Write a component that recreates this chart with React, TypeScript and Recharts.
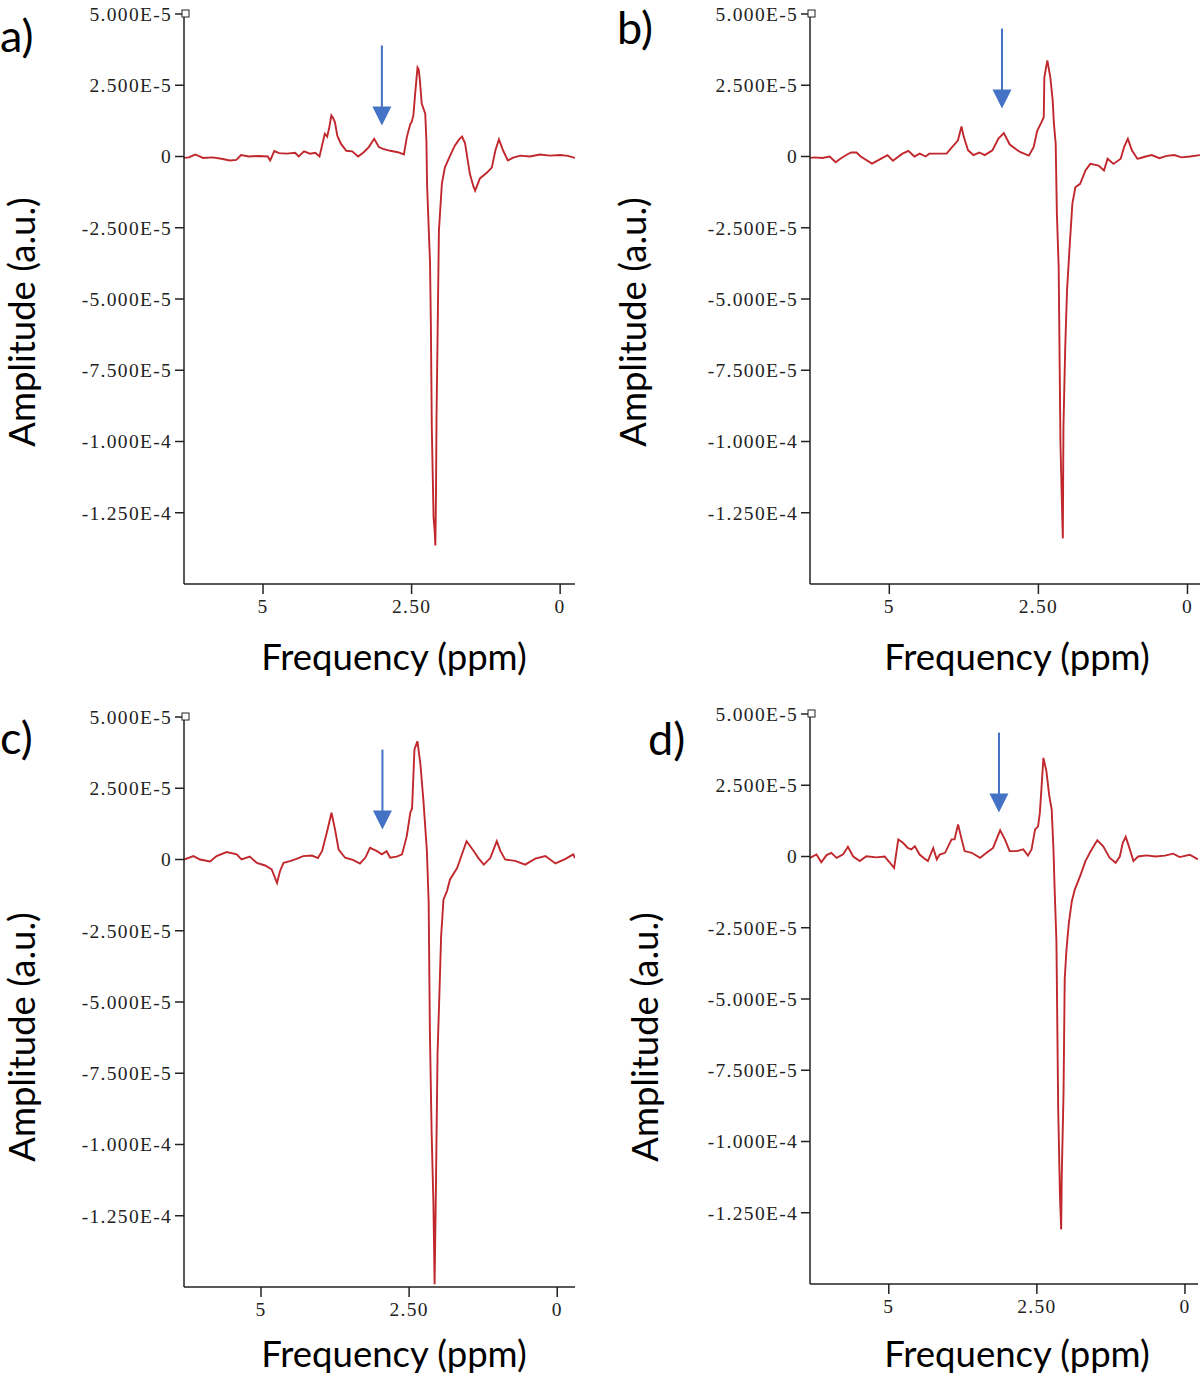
import React from 'react';
import { LineChart, Line, XAxis, YAxis, ReferenceDot, Label } from 'recharts';

// amplitudes below are in units of 1e-6 (a.u.)
const AMP_UNIT = 1e-6;

const PANEL_LETTERS = ['a)', 'b)', 'c)', 'd)'];
const X_LABEL = 'Frequency (ppm)';
const Y_LABEL = 'Amplitude (a.u.)';

const X_TICKS = [5, 2.5, 0];
const X_TICK_LABELS = ['5', '2.50', '0'];
const Y_TICKS = [5e-5, 2.5e-5, 0, -2.5e-5, -5e-5, -7.5e-5, -1e-4, -1.25e-4];
const Y_TICK_LABELS = ['5.000E-5', '2.500E-5', '0', '-2.500E-5', '-5.000E-5', '-7.500E-5', '-1.000E-4', '-1.250E-4'];
const Y_DOMAIN = [-1.5e-4, 5e-5];
const X_DOMAINS = [[-0.25, 6.33], [-0.21, 6.33], [-0.3, 6.3], [-0.22, 6.33]];

// Panel a
const PPM_A = [6.33, 6.25, 6.14, 6.01, 5.85, 5.7, 5.56, 5.45, 5.37, 5.24, 5.08, 4.92, 4.88, 4.81, 4.73, 4.6, 4.46, 4.4, 4.31, 4.21, 4.12, 4.05, 3.96, 3.92, 3.89, 3.85, 3.82, 3.79, 3.75, 3.69, 3.6, 3.5, 3.4, 3.31, 3.22, 3.13, 3.05, 2.98, 2.86, 2.73, 2.63, 2.58, 2.52, 2.5, 2.47, 2.44, 2.41, 2.4, 2.38, 2.36, 2.33, 2.27, 2.25, 2.24, 2.22, 2.19, 2.175, 2.16, 2.13, 2.11, 2.1, 2.09, 2.08, 2.06, 2.04, 1.99, 1.94, 1.85, 1.77, 1.7, 1.65, 1.6, 1.52, 1.46, 1.43, 1.35, 1.23, 1.15, 1.09, 1.03, 0.96, 0.88, 0.79, 0.67, 0.51, 0.34, 0.17, 0.0, -0.13, -0.25];
const AMP_A = [-0.5, -0.3, 0.7, -0.5, -0.3, -0.8, -1.4, -1.2, 0.5, 0.0, 0.2, 0.0, -1.4, 1.9, 1.2, 1.0, 1.3, 0.0, 1.8, 1.0, 1.3, 0.0, 8.0, 7.0, 9.7, 14.4, 13.5, 12.0, 7.3, 4.5, 2.0, 1.8, 0.0, 1.4, 3.3, 6.2, 3.3, 2.7, 2.0, 1.5, 0.7, 6.8, 11.5, 12.0, 14.4, 22, 29, 31.2, 30.5, 26.7, 18.6, 15, 5, -9.5, -20.7, -37, -60, -95, -126.7, -132, -136.5, -120, -91, -58.6, -26, -9.5, -3.9, 0.4, 3.9, 6, 7, 4.6, -6, -10.5, -12, -7.7, -5.6, -3.9, 2.1, 6.0, 2.1, -1.4, -0.4, 0.3, 0.0, 0.7, 0.3, 0.5, 0.2, -0.5];

// Panel b
const PPM_B = [6.33, 6.25, 6.12, 6.0, 5.9, 5.81, 5.7, 5.64, 5.55, 5.48, 5.29, 5.16, 5.03, 4.94, 4.78, 4.68, 4.58, 4.49, 4.39, 4.33, 4.04, 3.94, 3.85, 3.79, 3.75, 3.68, 3.59, 3.49, 3.4, 3.27, 3.17, 3.08, 2.98, 2.88, 2.8, 2.66, 2.58, 2.52, 2.45, 2.41, 2.4, 2.35, 2.3, 2.26, 2.24, 2.21, 2.19, 2.16, 2.13, 2.1, 2.09, 2.08, 2.05, 2.02, 1.97, 1.93, 1.88, 1.8, 1.71, 1.63, 1.49, 1.4, 1.34, 1.24, 1.12, 1.06, 1.0, 0.93, 0.84, 0.8, 0.7, 0.6, 0.47, 0.35, 0.22, 0.1, -0.04, -0.21];
const AMP_B = [-0.5, -0.3, -0.5, 0.0, -2.0, -0.6, 0.8, 1.4, 1.4, 0.0, -2.5, -1.0, 0.5, -1.5, 1.0, 2.0, 0.0, 1.0, 0.0, 1.0, 1.0, 3.5, 5.6, 10.5, 6.8, 2.2, 0.5, 1.4, 0.5, 2.2, 6.3, 8.2, 4.2, 2.6, 1.5, 0.3, 3.3, 9.0, 12.0, 13.8, 27.8, 33.7, 27.8, 19.6, 11.6, 4.5, -20, -38.8, -100.7, -126.6, -134, -95, -67, -47, -29.5, -16.5, -10.8, -9.6, -4.9, -2.6, -3.2, -4.9, -0.8, -2.6, -0.8, 3.5, 6.2, 2.1, -0.8, -0.6, 0.0, 0.5, -0.6, 0.2, 0.5, -0.3, 0.0, 0.5];

// Panel c
const PPM_C = [6.3, 6.14, 6.03, 5.86, 5.75, 5.58, 5.41, 5.33, 5.19, 5.07, 4.93, 4.82, 4.73, 4.68, 4.62, 4.51, 4.4, 4.29, 4.14, 4.04, 3.97, 3.89, 3.81, 3.75, 3.69, 3.58, 3.44, 3.33, 3.24, 3.16, 3.05, 2.96, 2.88, 2.82, 2.71, 2.62, 2.54, 2.48, 2.45, 2.41, 2.36, 2.31, 2.26, 2.2, 2.17, 2.15, 2.12, 2.09, 2.07, 2.05, 2.02, 1.99, 1.96, 1.92, 1.86, 1.81, 1.69, 1.58, 1.53, 1.41, 1.33, 1.24, 1.13, 1.02, 0.96, 0.88, 0.71, 0.54, 0.37, 0.2, 0.03, -0.14, -0.27, -0.3];
const AMP_C = [0.0, 1.2, 0.0, -0.7, 1.2, 2.6, 1.8, 0.0, 1.0, -1.2, -2.1, -3.5, -8.2, -4.1, -1.2, -0.6, 0.2, 1.2, 1.4, 0.5, 2.9, 9.4, 16.4, 10.5, 3.5, 0.6, -0.2, -1.4, 0.6, 4.1, 3.0, 1.8, 2.9, 0.6, 1.0, 1.8, 8.2, 16.4, 18, 38.6, 41.5, 33.5, 21, 3, -15.2, -59.6, -95.9, -120.5, -149, -119, -67.8, -48, -27, -14, -11, -7, -3, 3.5, 6.4, 3, 0.5, -1.8, 0.5, 6.4, 3, 0.0, -0.5, -1.8, 0.3, 1.2, -1.4, 0.2, 1.8, 0.5];

// Panel d
const PPM_D = [6.33, 6.22, 6.14, 6.05, 5.97, 5.88, 5.77, 5.69, 5.6, 5.49, 5.38, 5.21, 5.07, 4.98, 4.91, 4.84, 4.76, 4.68, 4.62, 4.56, 4.48, 4.41, 4.34, 4.25, 4.19, 4.14, 4.05, 3.94, 3.89, 3.83, 3.77, 3.72, 3.6, 3.46, 3.35, 3.24, 3.12, 3.04, 2.96, 2.84, 2.73, 2.65, 2.59, 2.53, 2.48, 2.45, 2.42, 2.39, 2.34, 2.29, 2.25, 2.22, 2.2, 2.17, 2.14, 2.11, 2.09, 2.08, 2.05, 2.03, 2.0, 1.96, 1.91, 1.86, 1.77, 1.68, 1.59, 1.48, 1.38, 1.27, 1.17, 1.1, 1.05, 1.0, 0.93, 0.87, 0.79, 0.65, 0.5, 0.34, 0.2, 0.09, -0.08, -0.22];
const AMP_D = [-0.5, 0.7, -2.0, 0.5, 1.3, -0.5, 0.8, 3.4, 0.0, -1.6, 0.1, -0.3, 0.0, -2.2, -4.0, 6.0, 4.8, 3.0, 2.5, 3.6, 0.7, -0.5, -1.6, 3.0, -1.0, 0.7, 1.3, 6.0, 6.0, 11.2, 6.0, 1.9, 1.3, -0.5, 1.3, 3.0, 9.2, 6.0, 1.9, 1.9, 2.5, 0.3, 2.5, 9.5, 10.6, 15.3, 24.7, 34.6, 30, 21.2, 16.5, 2.5, -11.6, -29.7, -88.8, -119.2, -130.9, -112, -83, -43, -32.6, -23.3, -15.7, -11.6, -6.9, -1.6, 1.9, 5.7, 3.6, -0.5, -2.2, 0.0, 4.8, 6.9, 2.5, -1.6, 0.0, 0.4, 0.0, 0.3, 1.0, -0.2, 0.6, -1.0];

const ARROW_PPM = [3.0, 3.11, 2.95, 3.14];
const ARROW_AMP = [10.9, 16.8, 10.5, 15.4];

const PANEL_PPM = [PPM_A, PPM_B, PPM_C, PPM_D];
const PANEL_AMP = [AMP_A, AMP_B, AMP_C, AMP_D];

// layout (chart-relative coordinates)
const LAYOUT = [
  { left: 0, top: 0, width: 600, height: 704, yw: 184, margin: { top: 14, right: 25, bottom: 90, left: 0 }, letter: { x: 0, y: 52 }, yLab: { x: 35, y: 322 }, xLab: { x: 394, y: 670 } },
  { left: 600, top: 0, width: 600, height: 704, yw: 210, margin: { top: 14, right: 0, bottom: 90, left: 0 }, letter: { x: 17, y: 44 }, yLab: { x: 46, y: 322 }, xLab: { x: 417, y: 670 } },
  { left: 0, top: 704, width: 600, height: 672, yw: 184, margin: { top: 13, right: 25, bottom: 59, left: 0 }, letter: { x: 0, y: 50 }, yLab: { x: 35, y: 333 }, xLab: { x: 394, y: 663 } },
  { left: 600, top: 704, width: 600, height: 672, yw: 210, margin: { top: 10, right: 2, bottom: 62, left: 0 }, letter: { x: 48, y: 51 }, yLab: { x: 58, y: 333 }, xLab: { x: 417, y: 663 } },
];

const LINE_COLOR = '#c0282d';
const ARROW_COLOR = '#4472c4';
const AXIS_COLOR = '#222';
const SANS = 'Lato, "Open Sans", sans-serif';
const SERIF = '"Liberation Serif", "DejaVu Serif", serif';

const fmtY = (v: number) => {
  const i = Y_TICKS.findIndex((t) => Math.abs(t - v) < 1e-12);
  return i >= 0 ? Y_TICK_LABELS[i] : '';
};
const fmtX = (v: number) => {
  const i = X_TICKS.findIndex((t) => Math.abs(t - v) < 1e-9);
  return i >= 0 ? X_TICK_LABELS[i] : '';
};

const ArrowShape = (p: any) => {
  const { cx, cy } = p;
  if (cx == null || cy == null) return null;
  return (
    <g>
      <line x1={cx} y1={cy - 80} x2={cx} y2={cy - 17} stroke={ARROW_COLOR} strokeWidth={2} />
      <path d={`M${cx - 9.5},${cy - 19} L${cx + 9.5},${cy - 19} L${cx},${cy} Z`} fill={ARROW_COLOR} />
    </g>
  );
};

const CornerBox = (p: any) => {
  const { cx, cy } = p;
  if (cx == null || cy == null) return null;
  return <rect x={cx - 2} y={cy - 4} width={7} height={7} fill="#fff" stroke={AXIS_COLOR} strokeWidth={1} />;
};

function Panel({ idx }: { idx: number }) {
  const L = LAYOUT[idx];
  const data = PANEL_PPM[idx].map((ppm, i) => ({ ppm, amp: PANEL_AMP[idx][i] * AMP_UNIT }));
  const tickStyle = { fill: AXIS_COLOR, fontSize: 19.5, fontFamily: SERIF, letterSpacing: 1.3 };
  return (
    <div style={{ position: 'absolute', left: L.left, top: L.top, width: L.width, height: L.height }}>
      <LineChart width={L.width} height={L.height} data={data} margin={L.margin}>
        <XAxis
          type="number"
          dataKey="ppm"
          domain={X_DOMAINS[idx]}
          reversed
          ticks={X_TICKS}
          tickFormatter={fmtX}
          interval={0}
          height={30}
          tickSize={10}
          tickMargin={5}
          allowDataOverflow
          stroke={AXIS_COLOR}
          strokeWidth={1.5}
          tick={tickStyle}
        >
          <Label
            content={() => (
              <text x={L.xLab.x} y={L.xLab.y} textAnchor="middle" fontFamily={SANS} fontSize={36.5} fill="#000">
                {X_LABEL}
              </text>
            )}
          />
        </XAxis>
        <YAxis
          type="number"
          domain={Y_DOMAIN}
          ticks={Y_TICKS}
          tickFormatter={fmtY}
          interval={0}
          width={L.yw}
          tickSize={9}
          tickMargin={3}
          allowDataOverflow
          stroke={AXIS_COLOR}
          strokeWidth={1.5}
          tick={tickStyle}
        >
          <Label
            content={() => (
              <g>
                <text
                  x={L.yLab.x}
                  y={L.yLab.y}
                  textAnchor="middle"
                  fontFamily={SANS}
                  fontSize={36.5}
                  fill="#000"
                  transform={`rotate(-90, ${L.yLab.x}, ${L.yLab.y})`}
                >
                  {Y_LABEL}
                </text>
                <text x={L.letter.x} y={L.letter.y} fontFamily={SANS} fontSize={45} fill="#000">
                  {PANEL_LETTERS[idx]}
                </text>
              </g>
            )}
          />
        </YAxis>
        <Line
          type="linear"
          dataKey="amp"
          stroke={LINE_COLOR}
          strokeWidth={1.9}
          dot={false}
          activeDot={false}
          isAnimationActive={false}
        />
        <ReferenceDot x={X_DOMAINS[idx][1]} y={Y_DOMAIN[1]} ifOverflow="visible" shape={CornerBox} />
        <ReferenceDot x={ARROW_PPM[idx]} y={ARROW_AMP[idx] * AMP_UNIT} ifOverflow="visible" shape={ArrowShape} />
      </LineChart>
    </div>
  );
}

export default function App() {
  return (
    <div style={{ position: 'absolute', left: 0, top: 0, width: 1200, height: 1376, background: '#fff', overflow: 'hidden' }}>
      {[0, 1, 2, 3].map((i) => (
        <Panel key={i} idx={i} />
      ))}
    </div>
  );
}
